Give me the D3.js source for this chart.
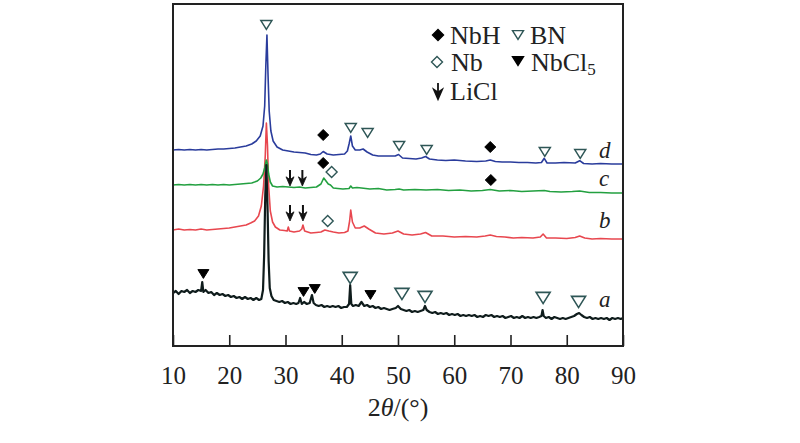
<!DOCTYPE html>
<html>
<head>
<meta charset="utf-8">
<script src="https://cdn.jsdelivr.net/npm/d3@7"></script>
<style>
  body { margin: 0; background: #fff; }
  text { font-family: "Liberation Serif", "DejaVu Serif", serif; }
</style>
</head>
<body>
<div id="xrd"></div>
<script>
// patterns, [2theta, intensity a.u. incl. offset]
const curveA = [[10,53],[10.5,55],[11,52],[11.5,55],[12,54],[12.5,56],[13,53],[13.5,55],[14,54],[14.5,56],[15,55],[15.2,64],[15.4,54],[15.8,56],[16.3,53],[16.8,54],[17.3,51],[17.8,53],[18.3,51],[18.8,52],[19.3,50],[19.8,51],[20.3,49],[20.8,50],[21.3,48],[21.8,49],[22.3,47],[22.8,49],[23.3,47],[23.8,48],[24.3,46],[24.8,48],[25.3,46],[25.7,47],[26.0,56],[26.2,90],[26.4,150],[26.6,181],[26.8,140],[27.0,85],[27.2,58],[27.5,50],[27.9,46],[28.4,45],[28.9,44],[29.4,45],[29.9,43],[30.4,44],[30.9,42],[31.4,43],[31.9,42],[32.3,43],[32.6,48],[32.9,42],[33.3,44],[33.8,42],[34.3,43],[34.7,51],[35.0,43],[35.4,41],[35.9,40],[36.4,41],[36.9,39],[37.4,40],[37.9,39],[38.4,40],[38.9,39],[39.4,40],[39.9,38],[40.4,39],[40.9,39],[41.3,42],[41.5,61],[41.7,42],[42.0,40],[42.5,41],[43.0,40],[43.5,44],[44.0,40],[44.5,41],[45.0,39],[45.5,40],[46.0,38],[46.5,39],[47.0,37],[47.5,38],[48.0,37],[48.5,36],[49.0,37],[49.6,38],[50.0,40],[50.5,37],[51.0,36],[51.5,35],[52.0,36],[52.5,34],[53.0,35],[53.5,34],[54.0,35],[54.5,36],[54.8,40],[55.1,36],[55.6,34],[56.1,33],[56.6,34],[57.1,32],[57.6,33],[58.1,32],[58.6,33],[59.1,31],[59.6,32],[60.1,31],[60.6,32],[61.1,30],[61.6,31],[62.1,30],[62.6,31],[63.1,30],[63.6,31],[64.1,29],[64.6,30],[65.1,29],[65.6,31],[66.1,30],[66.6,31],[67.1,29],[67.6,30],[68.1,29],[68.6,30],[69.1,28],[69.6,29],[70.1,30],[70.6,28],[71.1,29],[71.6,28],[72.1,30],[72.6,28],[73.1,29],[73.6,28],[74.1,29],[74.6,28],[75.1,29],[75.5,30],[75.7,36],[75.9,30],[76.3,28],[76.8,29],[77.3,27],[77.8,29],[78.3,28],[78.8,27],[79.3,28],[79.8,27],[80.3,28],[80.8,29],[81.3,30],[81.8,32],[82.2,33],[82.6,31],[83.1,29],[83.6,28],[84.1,29],[84.6,27],[85.1,28],[85.6,27],[86.1,28],[86.6,27],[87.1,28],[87.6,26],[88.1,28],[88.6,27],[89.1,28],[89.6,27],[90,28]];

const curveB = [[10,116],[11,117],[12,116],[13,116.5],[14,116],[15,117],[16,116],[17,116.5],[18,117],[19,117.5],[20,118],[21,119],[22,120],[23,121],[23.8,123],[24.5,125],[25.2,130],[25.7,140],[26.1,160],[26.4,190],[26.6,223],[26.8,200],[27.0,160],[27.3,135],[27.7,124],[28.2,119],[29,116],[29.8,115.5],[30.3,115],[30.5,119],[30.7,115],[31.5,114],[32.5,115],[32.9,117],[33.1,121],[33.4,115],[34.5,113],[35.5,113.5],[36.3,114],[37,116],[37.7,115],[38.5,114],[39.5,113],[40.5,113.5],[41.1,115],[41.4,125],[41.6,136],[41.9,124],[42.4,118],[43.2,118],[44.0,120],[44.8,117],[46,113],[47.5,112],[49,113],[50,115],[51,112],[52.5,111],[54,112],[54.9,113.5],[56,110],[58,110],[60,109],[62,109.5],[64,109],[65.5,110],[66.4,111],[67.5,109.5],[69,109],[70.5,108],[72,108.5],[74,108],[75.3,109],[75.8,112],[76.4,108],[78,108],[80,107.5],[81.5,108.5],[82.3,110],[83.2,108],[84.5,107],[86,107.5],[88,107],[90,107]];

const curveC = [[10,161],[11,161.5],[12,161],[13,161.5],[14,161],[15,161.5],[16,161],[17,161.5],[18,161],[19,161.5],[20,161],[21,161.5],[22,162],[23,162.5],[24,163],[25.0,165],[25.6,168],[26.0,172],[26.3,178],[26.6,186],[26.8,182],[27.0,172],[27.3,164],[27.7,160],[28.5,159],[29.5,159.5],[30.5,159],[31.5,158.5],[32.5,159],[33.5,158],[34.5,158.5],[35.5,159],[36.3,162],[36.8,168],[37.2,165],[37.6,162],[38.0,161],[38.5,158],[39.3,157.5],[40.2,157],[41.3,157.5],[41.6,160],[41.9,158],[42.7,158.5],[43.5,158],[45,157],[46.5,157.5],[48,156],[49.5,156.5],[50.2,157],[51,156],[53,156.5],[55,156],[57,156.5],[59,155.5],[61,156],[63,155],[65,155.5],[66.4,156.5],[68,155],[70,155.5],[72,154.5],[74,155],[76,155.5],[77,154.5],[79,154],[81,154.5],[82.3,155],[84,153.5],[86,153.5],[88,153],[90,153]];

const curveD = [[10,196],[11,196.5],[12,196],[13,196.5],[14,196],[15,196.5],[16,196],[17,196.5],[18,197],[19,197],[20,197.5],[21,198],[22,199],[23,200],[24,202],[24.8,205],[25.5,210],[26.0,220],[26.3,240],[26.5,280],[26.7,311],[26.9,270],[27.1,235],[27.4,215],[27.8,205],[28.5,199],[29.5,196],[30.5,195],[31.5,194],[32.5,193.5],[33.5,193],[34.5,191.5],[35.5,191],[36.2,192],[36.7,194.5],[37.4,192],[38.5,191],[39.5,191.5],[40.5,192],[41.0,195],[41.3,202],[41.6,210],[41.9,200],[42.4,196],[43.2,196],[43.8,197],[44.5,194],[45.5,191],[46.5,190],[48,190],[49.5,190],[50.1,191.5],[50.8,188],[52,187.5],[53.2,187],[54.2,188],[54.9,189.5],[55.6,187],[57,186],[58.5,185.5],[60,186],[62,185],[64,184.5],[65.6,185],[66.4,186],[67.3,184.5],[68.5,184],[70,184],[71.5,183.5],[73,183.5],[74.5,183],[75.5,183.5],[76,187.7],[76.5,183],[78,183],[79.5,183.5],[81.5,183],[82.3,185.3],[83,182.5],[84.5,182],[86,182.5],[88,182],[90,182]];

// phase markers [2theta, height a.u.]
const bnSmall = [[26.6,321],[41.6,218],[44.6,213],[50.2,200],[55.1,196],[76.1,194],[82.4,192]];
const bnLarge = [[41.5,68],[50.7,52],[54.8,49],[75.8,48],[82.1,44]];
const nbhMarks = [[36.7,211],[66.4,199],[36.7,183],[66.5,166]];
const nbMarks = [[38.2,174],[37.5,125]];
const liclMarks = [[30.8,168],[33.0,168],[30.8,133],[33.1,133]];
const nbcl5Marks = [[15.4,72],[33.2,54],[35.2,57],[45.1,51]];

const xTicks = [10, 20, 30, 40, 50, 60, 70, 80, 90];
const curveLabels = [["a", 39], ["b", 118], ["c", 160], ["d", 188]];

const width = 800, height = 443;
const margin = {top: 4, right: 177, bottom: 97, left: 173};

const svg = d3.select("#xrd")
  .append("svg")
    .attr("width", width)
    .attr("height", height);

const x = d3.scaleLinear().domain([10, 90]).range([margin.left, width - margin.right]);
const y = d3.scaleLinear().domain([0, 342]).range([height - margin.bottom, margin.top]);

const line = d3.line().x(d => x(d[0])).y(d => y(d[1]));

const series = [
  {data: curveD, color: "#2a3c9c", w: 1.6},
  {data: curveB, color: "#e8474f", w: 1.6},
  {data: curveC, color: "#23a040", w: 1.6},
  {data: curveA, color: "#0f1c1c", w: 2.2}
];

svg.selectAll("path.curve")
  .data(series)
  .join("path")
    .attr("class", "curve")
    .attr("d", d => line(d.data))
    .attr("fill", "none")
    .attr("stroke", d => d.color)
    .attr("stroke-width", d => d.w)
    .attr("stroke-linejoin", "round");

// frame
svg.append("rect")
  .attr("x", x(10))
  .attr("y", margin.top)
  .attr("width", x(90) - x(10))
  .attr("height", height - margin.bottom - margin.top)
  .attr("fill", "none")
  .attr("stroke", "#222")
  .attr("stroke-width", 2);

// x axis, ticks inward
const xAxis = svg.append("g")
  .attr("transform", `translate(0,${height - margin.bottom})`)
  .call(d3.axisBottom(x).tickValues(xTicks).tickSizeInner(-11).tickSizeOuter(0).tickPadding(20));
xAxis.select(".domain").remove();
xAxis.selectAll(".tick line").attr("stroke", "#222").attr("stroke-width", 1.6);
xAxis.selectAll(".tick text")
  .attr("fill", "#222")
  .style("font-size", "25px")
  .style("font-family", "Liberation Serif, serif");

const xTitle = svg.append("text")
  .attr("x", 398)
  .attr("y", 416)
  .attr("text-anchor", "middle")
  .style("font-size", "26px")
  .attr("fill", "#222");
xTitle.append("tspan").text("2");
xTitle.append("tspan").style("font-style", "italic").text("θ");
xTitle.append("tspan").text("/(°)");

// marker shapes
function triDown(s) { return `M${-s},${-s*0.8}L${s},${-s*0.8}L0,${s*0.8}Z`; }
function diamond(s) { return `M0,${-s}L${s},0L0,${s}L${-s},0Z`; }
function arrowShaft(s) { return `M0,${-s}L0,${s*0.2}`; }
function arrowHead(s) { return `M${-s*0.5},${-s*0.15}L0,${s*0.2}L${s*0.5},${-s*0.15}L0,${s}Z`; }

function drawMarks(data, path, fill, stroke, sw) {
  svg.append("g").selectAll("path")
    .data(data)
    .join("path")
      .attr("transform", d => `translate(${x(d[0])},${y(d[1])})`)
      .attr("d", path)
      .attr("fill", fill)
      .attr("stroke", stroke)
      .attr("stroke-width", sw)
      .attr("stroke-linejoin", "miter");
}

drawMarks(bnSmall, triDown(5.5), "#fff", "#2e5656", 1.5);
drawMarks(bnLarge, triDown(7), "#fff", "#2e5656", 1.6);
drawMarks(nbhMarks, diamond(5.5), "#000", "#000", 1);
drawMarks(nbMarks, diamond(5.5), "#fff", "#2e5656", 1.4);
drawMarks(nbcl5Marks, triDown(5.5), "#000", "#000", 1);
drawMarks(liclMarks, arrowShaft(8), "none", "#111", 2);
drawMarks(liclMarks, arrowHead(8), "#111", "#111", 0.8);

// curve letters
svg.selectAll("text.clabel")
  .data(curveLabels)
  .join("text")
    .attr("class", "clabel")
    .attr("x", 599)
    .attr("y", d => y(d[1]))
    .style("font-size", "23px")
    .style("font-style", "italic")
    .attr("fill", "#222")
    .text(d => d[0]);

// legend
const legend = svg.append("g");
const legendRows = [
  {name: "NbH", sub: "", path: [diamond(5.5)], fill: "#000", stroke: "#000", mx: 438, my: 35, tx: 450, ty: 44},
  {name: "BN", sub: "", path: [triDown(5.5)], fill: "#fff", stroke: "#2e5656", mx: 518, my: 35, tx: 530, ty: 44},
  {name: "Nb", sub: "", path: [diamond(5.5)], fill: "#fff", stroke: "#2e5656", mx: 437, my: 62, tx: 451, ty: 71},
  {name: "NbCl", sub: "5", path: [triDown(5.5)], fill: "#000", stroke: "#000", mx: 518, my: 61, tx: 531, ty: 71},
  {name: "LiCl", sub: "", path: [arrowHead(8), arrowShaft(8)], fill: "#111", stroke: "#111", mx: 438, my: 91, tx: 450, ty: 100}
];
legendRows.forEach(r => {
  r.path.forEach(p => {
    legend.append("path")
      .attr("transform", `translate(${r.mx},${r.my})`)
      .attr("d", p)
      .attr("fill", r.fill)
      .attr("stroke", r.stroke)
      .attr("stroke-width", r.name === "LiCl" ? 1.8 : 1.4);
  });
  const t = legend.append("text")
    .attr("x", r.tx)
    .attr("y", r.ty)
    .style("font-size", "26px")
    .attr("fill", "#222")
    .text(r.name);
  if (r.sub) t.append("tspan").attr("dy", 4).style("font-size", "17px").text(r.sub);
});
</script>
</body>
</html>
